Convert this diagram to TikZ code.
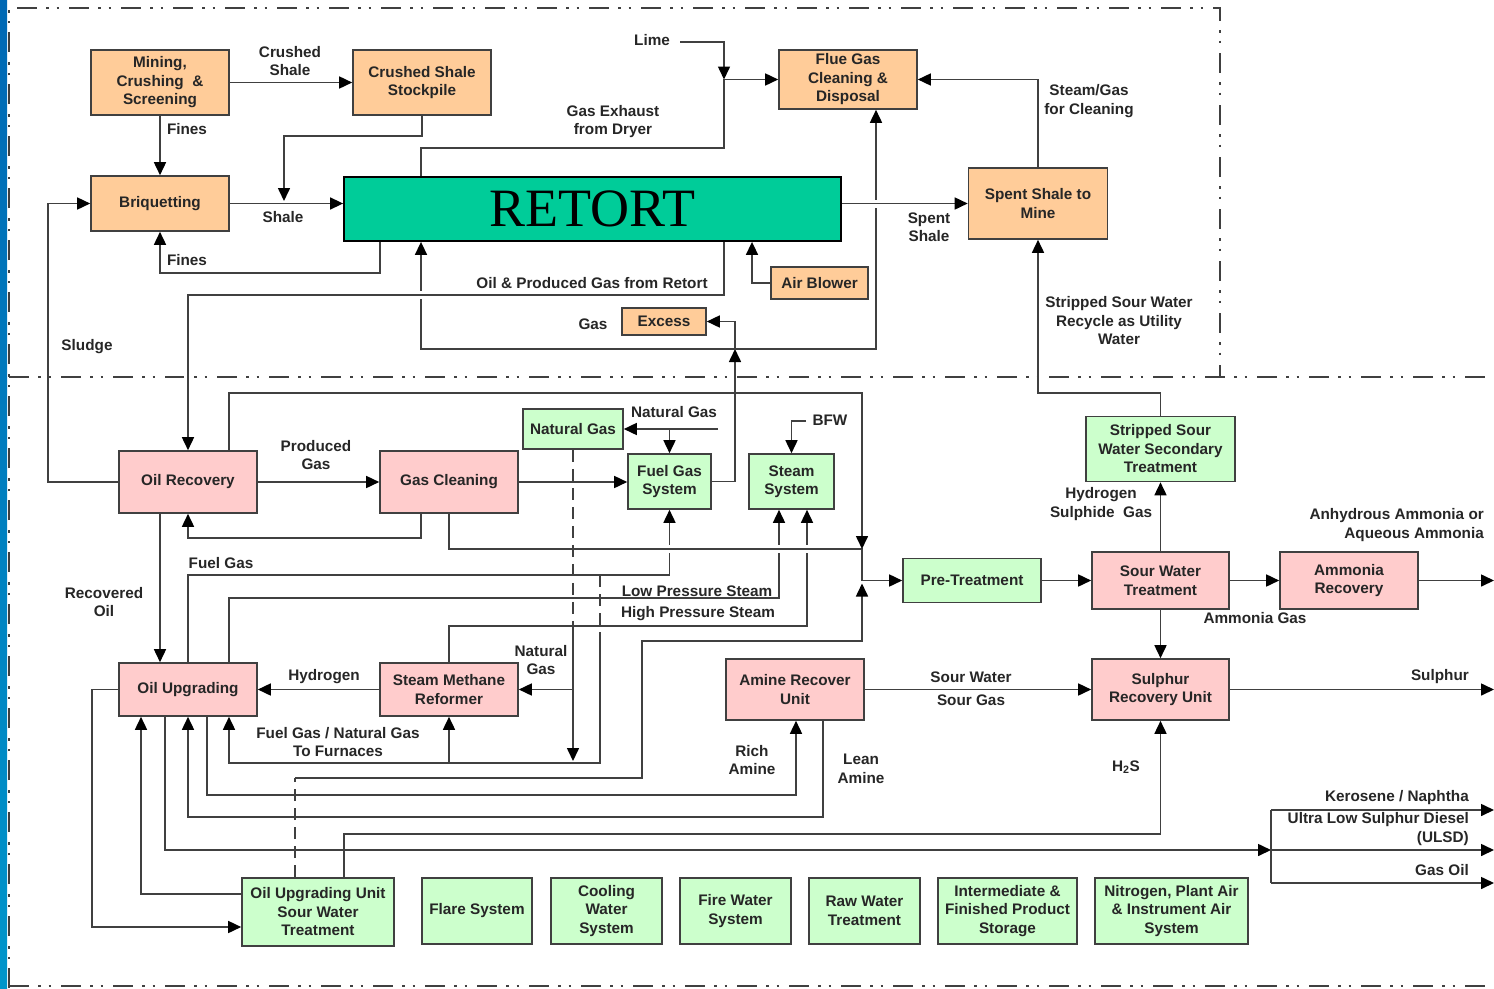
\documentclass[tikz,border=0pt]{standalone}
\usepackage{fontspec}
\setmainfont{Liberation Sans}
\newfontfamily\retortfont{Liberation Serif}
\usetikzlibrary{arrows.meta,positioning}

\definecolor{shalebox}{HTML}{FFCC99}
\definecolor{processbox}{HTML}{FFCCCC}
\definecolor{utilitybox}{HTML}{CCFFCC}
\definecolor{retortfill}{HTML}{00CC99}
\definecolor{linegrey}{HTML}{404040}
\definecolor{textgrey}{HTML}{262626}
\definecolor{slideblue}{HTML}{0068B4}

\tikzset{
  unit/.style={draw=linegrey, line width=1.6pt, align=center, inner sep=1pt,
    font=\fontsize{15.3}{18.5}\selectfont\bfseries, text=textgrey},
  shaleunit/.style={unit, fill=shalebox},
  processunit/.style={unit, fill=processbox},
  utilityunit/.style={unit, fill=utilitybox},
  flowlabel/.style={align=center, inner sep=0pt,
    font=\fontsize{15.3}{18.5}\selectfont\bfseries, text=textgrey},
  arealine/.style={draw=linegrey, line width=2pt,
    dash pattern=on 20pt off 9pt on 2.5pt off 8pt on 2.5pt off 10pt},
  dashflow/.style={dash pattern=on 12pt off 7pt},
  crossover/.style={preaction={draw=white, line width=8pt, arrows=-,
    shorten <=5pt, shorten >=5pt}}
}

\begin{document}
\begin{tikzpicture}[x=1pt, y=-1pt]
\useasboundingbox (0,0) rectangle (1494,988);

% slide edge and plant areas
\fill[top color=slideblue, bottom color=slideblue!70!cyan] (0,0) rectangle (7,988);
\draw[arealine] (9,988) -- (9,8) -- (1220,8) -- (1220,377);
\draw[arealine] (9,377) -- (1494,377);
\draw[arealine] (9,986) -- (1494,986);

% mining and retorting
\begin{scope}[every node/.style={shaleunit}]
    \node[minimum width=138pt, minimum height=65pt] (mine) at (160,82.5) {Mining,\\Crushing \ \&\\Screening};
    \node[minimum width=138pt, minimum height=65pt] (stock) at (422,82.5) {Crushed Shale\\Stockpile};
    \node[minimum width=138pt, minimum height=55pt] (briq) at (160,203.5) {Briquetting};
    \node[minimum width=138pt, minimum height=59pt] (flue) at (848,79.5) {Flue Gas\\Cleaning \&\\Disposal};
    \node[minimum width=139pt, minimum height=71pt] (spent) at (1038,203.5) {Spent Shale to\\Mine};
    \node[minimum width=97pt, minimum height=32pt] (air) at (819.5,283) {Air Blower};
    \node[minimum width=84pt, minimum height=27pt] (excess) at (664,321.5) {Excess};
\end{scope}
\node[draw=black, line width=1.8pt, fill=retortfill, minimum width=497pt, minimum height=64pt,
      font=\retortfont\fontsize{54}{54}\selectfont] (retort) at (592.5,209) {RETORT};

% oil, gas and water units
\begin{scope}[every node/.style={processunit}]
    \node[minimum width=138pt, minimum height=62pt] (oilrec) at (188,482) {Oil Recovery};
    \node[minimum width=138pt, minimum height=62pt] (gasclean) at (449,482) {Gas Cleaning};
    \node[minimum width=137pt, minimum height=57pt] (swt) at (1160.5,580.5) {Sour Water\\Treatment};
    \node[minimum width=138pt, minimum height=57pt] (ammrec) at (1349,580.5) {Ammonia\\Recovery};
    \node[minimum width=138pt, minimum height=53pt] (oilup) at (188,689.5) {Oil Upgrading};
    \node[minimum width=138pt, minimum height=53pt] (smr) at (449,689.5) {Steam Methane\\Reformer};
    \node[minimum width=138pt, minimum height=61pt] (amine) at (795,689.5) {Amine Recover\\Unit};
    \node[minimum width=137pt, minimum height=61pt] (sru) at (1160.5,689.5) {Sulphur\\Recovery Unit};
\end{scope}

% utilities
\begin{scope}[every node/.style={utilityunit}]
    \node[minimum width=100pt, minimum height=40pt] (natgas) at (573,429) {Natural Gas};
    \node[minimum width=83pt, minimum height=55pt] (fuelgas) at (669.5,481.5) {Fuel Gas\\System};
    \node[minimum width=85pt, minimum height=55pt] (steam) at (791.5,481.5) {Steam\\System};
    \node[minimum width=138pt, minimum height=44pt] (pretreat) at (972,580.5) {Pre-Treatment};
    \node[minimum width=149pt, minimum height=65pt] (sswst) at (1160.5,449) {Stripped Sour\\Water Secondary\\Treatment};
    \node[minimum width=152pt, minimum height=68pt] (ouswt) at (318,912) {Oil Upgrading Unit\\Sour Water\\Treatment};
    \node[minimum width=110pt, minimum height=66pt] (flare) at (477,911) {Flare System};
    \node[minimum width=111pt, minimum height=66pt] (cooling) at (606.5,911) {Cooling\\Water\\System};
    \node[minimum width=111pt, minimum height=66pt] (firew) at (735.5,911) {Fire Water\\System};
    \node[minimum width=111pt, minimum height=66pt] (raww) at (864.5,911) {Raw Water\\Treatment};
    \node[minimum width=139pt, minimum height=66pt] (storage) at (1007.5,911) {Intermediate \&\\Finished Product\\Storage};
    \node[minimum width=153pt, minimum height=66pt] (nitrogen) at (1171.5,911) {Nitrogen, Plant Air\\\& Instrument Air\\System};
\end{scope}

% free ends and junctions
\coordinate (shaledrop) at (284,201);
\coordinate (exhaustjoin) at (724,79.5);
\coordinate (lime) at (680,42);
\coordinate (gasjoin) at (735,349);
\coordinate (ngfeed) at (718,429);
\coordinate (bfw) at (806,421);
\coordinate (pretop) at (862,549);
\coordinate (ptjoin) at (862,580.5);
\coordinate (ptbottom) at (862,583.5);
\coordinate (ngdrop) at (573,761);
\coordinate (productsplit) at (1271,850);
\coordinate (ammout) at (1494,580.5);
\coordinate (sulout) at (1494,689.5);
\coordinate (keroout) at (1494,810);
\coordinate (ulsdout) at (1494,850);
\coordinate (gasoilout) at (1494,883);

\begin{scope}[linegrey, line width=1.6pt, >={Triangle[length=13pt,width=12pt,color=black]}]
    % mining and retorting
    \draw[->] (mine) -- (stock);
    \draw[->] (mine) -- (briq);
    \draw[->] (stock.south) -- ++(0,20) -| (shaledrop);
    \draw[->] (briq) -- (briq -| retort.west);
    \draw[->] (retort.south -| 380,0) -- ++(0,31) -| (briq.south);
    \draw[->] (oilrec.west) -- ++(-70,0) |- (briq.west);
    \draw[->] (retort.north -| 421,0) -- ++(0,-28) -| (exhaustjoin) -- (flue.west);
    \draw[->] (lime) -| (exhaustjoin);
    \draw[->] (spent.north) |- (flue.east);
    \draw[->] (air.west) -| (retort.south -| 752,0);
    \draw[->] (fuelgas.east) -| (gasjoin);
    \draw[->] (gasjoin) |- (excess.east);
    \draw[->] (gasjoin) -| (retort.south -| 421,0);
    \draw[->] (gasjoin) -| (flue.south -| 876,0);
    \draw[->, crossover] (retort.east |- spent) -- (spent);
    \draw[->, crossover] (retort.south -| 724,0) -- ++(0,53) -| (oilrec.north);
    \draw[->] (sswst.north) -- ++(0,-23) -| (spent.south);

    % oil and gas
    \draw[->] (oilrec) -- (gasclean);
    \draw[->] (gasclean.south -| 421,0) -- ++(0,24) -| (oilrec.south);
    \draw[->] (gasclean) -- (gasclean -| fuelgas.west);
    \draw[->] (ngfeed) -- (natgas);
    \draw[->] (fuelgas.north |- ngfeed) -- (fuelgas.north);
    \draw[->] (bfw) -| (steam.north);
    \draw[->] (oilup.north) |- (669.5,575) -- (fuelgas.south);
    \draw[->] (oilup.north -| 229,0) |- (779,598) -- (steam.south -| 779,0);
    \draw[->] (smr.north) |- (807,626) -- (steam.south -| 807,0);
    \draw[crossover] (gasclean.south) |- (pretop) -- (ptjoin);
    \draw[->] (oilrec.north -| 229,0) -- ++(0,-57) -| (pretop);
    \draw[->] (ptjoin) -- (pretreat);
    \draw[dashflow] (ouswt.north -| 295,0) -- (295,778);
    \draw[->] (295,778) -| (642,641) -| (ptbottom);
    \draw[dashflow] (natgas.south) -- (573,633);
    \draw[->] (573,633) -- (ngdrop);
    \draw[->] (573,689.5) -- (smr.east);
    \draw[dashflow] (600,575) -- (600,633);
    \draw[->] (600,633) |- (229,763) -- (oilup.south -| 229,0);
    \draw[->] (smr.south |- 0,763) -- (smr.south);
    \draw[->] (oilrec.south -| 160,0) -- (oilup.north -| 160,0);
    \draw[->] (smr) -- (oilup);

    % upgrading products and recycles
    \draw[->] (ouswt.west |- 0,894) -| (oilup.south -| 141,0);
    \draw[->] (oilup.west) -- ++(-26,0) |- (ouswt.west |- 0,927);
    \draw[->] (oilup.south -| 165,0) |- (productsplit);
    \draw (1271,810) -- (1271,883);
    \draw[->] (1271,810) -- (keroout);
    \draw[->] (productsplit) -- (ulsdout);
    \draw[->] (1271,883) -- (gasoilout);
    \draw[->] (amine.south -| 823,0) |- (188,817) -- (oilup.south);
    \draw[->] (oilup.south -| 207,0) |- (796,795) -- (amine.south -| 796,0);
    \draw[->] (ouswt.north -| 344,0) |- (1160.5,834) -- (sru.south);

    % sour water and sulphur
    \draw[->] (amine) -- (sru);
    \draw[->] (pretreat) -- (swt);
    \draw[->] (swt) -- (sswst);
    \draw[->] (swt) -- (ammrec);
    \draw[->] (ammrec) -- (ammout);
    \draw[->] (swt) -- (sru);
    \draw[->] (sru) -- (sulout);
\end{scope}

% stream labels
\begin{scope}[every node/.style={flowlabel}]
    \node (lcrushed) at (290,61) {Crushed\\Shale};
    \node (lfinestop) at (187,129) {Fines};
    \node (lshale) at (283,217) {Shale};
    \node (lfinesback) at (187,260) {Fines};
    \node (lsludge) at (87,347) {Sludge};
    \node (llime) at (652,40) {Lime};
    \node (lexhaust) at (613,121.5) {Gas Exhaust\\from Dryer};
    \node (lspent) at (929,227) {Spent\\Shale};
    \node (lsteamgas) at (1089,101) {Steam/Gas\\for Cleaning};
    \node (lretortoil) at (592,283) {Oil \& Produced Gas from Retort};
    \node (lgas) at (593,324) {Gas};
    \node (lrecycle) at (1119,321) {Stripped Sour Water\\Recycle as Utility\\Water};
    \node (lprodgas) at (316,455) {Produced\\Gas};
    \node (lnatgas) at (674,412) {Natural Gas};
    \node (lbfw) at (830,420) {BFW};
    \node (lfuelgas) at (221,563) {Fuel Gas};
    \node (lrecoil) at (104,602) {Recovered\\Oil};
    \node (llps) at (697,591) {Low Pressure Steam};
    \node (lhps) at (698,614) {High Pressure Steam};
    \node (lsmrgas) at (541,660) {Natural\\Gas};
    \node (lhydrogen) at (324,677) {Hydrogen};
    \node (lfurnace) at (338,742) {Fuel Gas / Natural Gas\\To Furnaces};
    \node (lrich) at (752,760) {Rich\\Amine};
    \node (llean) at (861,769) {Lean\\Amine};
    \node (lsourw) at (971,677) {Sour Water};
    \node (lsourg) at (971,700) {Sour Gas};
    \node (lh2sgas) at (1101,504) {Hydrogen\\Sulphide \ Gas};
    \node[anchor=east, align=right] (lammonia) at (1484,525) {Anhydrous Ammonia or\\Aqueous Ammonia};
    \node (lammgas) at (1255,618) {Ammonia Gas};
    \node[anchor=east] (lsulphur) at (1469,677) {Sulphur};
    \node (lh2s) at (1126,767) {H\textsubscript{2}S};
    \node[anchor=east] (lkero) at (1469,798) {Kerosene / Naphtha};
    \node[anchor=east, align=right] (lulsd) at (1469,829) {Ultra Low Sulphur Diesel\\(ULSD)};
    \node[anchor=east] (lgasoil) at (1469,870) {Gas Oil};
\end{scope}
\end{tikzpicture}
\end{document}
